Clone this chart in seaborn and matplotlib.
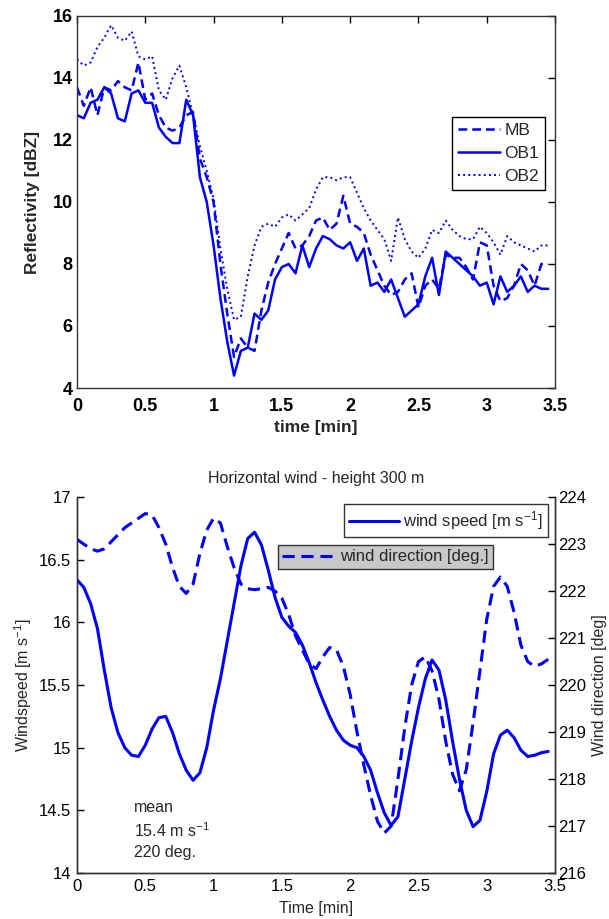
import numpy as np
import pandas as pd
import matplotlib
matplotlib.use("Agg")
import matplotlib.pyplot as plt
import seaborn as sns

# time grid (min), sampled every 0.05 min
t = np.round(np.arange(0, 3.5, 0.05), 2)

mb = [13.7, 13.1, 13.7, 12.8, 13.7, 13.6, 13.9, 13.7, 13.6, 14.5,
      13.3, 13.5, 12.8, 12.4, 12.3, 12.4, 12.8, 12.9, 11.4, 10.8,
      10.0, 8.0, 6.4, 5.0, 5.6, 5.3, 5.2, 6.5, 7.4, 8.0,
      8.5, 9.0, 8.5, 8.6, 8.9, 9.4, 9.5, 9.1, 9.3, 10.2,
      9.3, 9.2, 9.0, 8.3, 7.8, 7.3, 7.0, 7.1, 7.5, 7.7,
      6.6, 7.3, 7.5, 7.2, 8.3, 8.2, 8.2, 7.9, 7.5, 8.7,
      8.6, 7.3, 6.8, 6.9, 7.3, 8.0, 7.8, 7.3, 8.0, 8.0]
ob1 = [12.8, 12.7, 13.2, 13.3, 13.7, 13.5, 12.7, 12.6, 13.5, 13.6,
       13.2, 13.2, 12.4, 12.1, 11.9, 11.9, 13.3, 12.8, 10.8, 10.0,
       8.6, 6.9, 5.5, 4.4, 5.2, 5.3, 6.4, 6.2, 6.5, 7.5,
       7.9, 8.0, 7.7, 8.6, 7.9, 8.5, 8.9, 8.8, 8.6, 8.5,
       8.7, 8.1, 8.5, 7.3, 7.4, 7.1, 7.5, 6.9, 6.3, 6.5,
       6.7, 7.6, 8.2, 7.0, 8.4, 8.2, 8.0, 7.8, 7.6, 7.3,
       7.4, 6.7, 7.6, 7.1, 7.3, 7.6, 7.1, 7.3, 7.2, 7.2]
ob2 = [14.6, 14.4, 14.5, 15.0, 15.3, 15.7, 15.3, 15.2, 15.5, 14.7,
       14.6, 14.7, 13.6, 13.3, 14.0, 14.4, 13.7, 12.8, 11.8, 11.0,
       10.1, 8.5, 7.2, 6.2, 6.3, 7.6, 8.6, 9.2, 9.3, 9.2,
       9.5, 9.6, 9.4, 9.6, 9.8, 10.4, 10.8, 10.8, 10.7, 10.8,
       10.8, 10.3, 9.8, 9.4, 9.1, 8.8, 8.1, 9.5, 8.8, 8.4,
       8.2, 8.5, 9.1, 9.0, 9.4, 9.1, 8.9, 8.8, 8.8, 9.2,
       9.0, 8.7, 8.3, 8.9, 8.7, 8.6, 8.5, 8.4, 8.6, 8.6]

speed = [16.34, 16.28, 16.15, 15.95, 15.62, 15.32, 15.12, 15.0, 14.94, 14.93,
         15.02, 15.15, 15.24, 15.25, 15.12, 14.95, 14.82, 14.74, 14.80, 15.0,
         15.3, 15.55, 15.85, 16.15, 16.45, 16.67, 16.72, 16.62, 16.42, 16.2,
         16.04, 15.97, 15.92, 15.82, 15.68, 15.52, 15.38, 15.25, 15.14, 15.06,
         15.02, 15.0, 14.93, 14.82, 14.64, 14.48, 14.38, 14.45, 14.75, 15.05,
         15.32, 15.55, 15.70, 15.62, 15.38, 15.05, 14.75, 14.5, 14.37, 14.42,
         14.65, 14.95, 15.1, 15.14, 15.08, 14.98, 14.93, 14.94, 14.96, 14.97]
direction = [223.1, 223.0, 222.9, 222.85, 222.9, 223.05, 223.2, 223.35, 223.45, 223.55,
             223.65, 223.62, 223.35, 223.0, 222.5, 222.1, 221.95, 222.15, 222.8, 223.3,
             223.55, 223.45, 222.95, 222.5, 222.15, 222.05, 222.03, 222.05, 222.08, 222.0,
             221.85, 221.5, 221.05, 220.75, 220.45, 220.35, 220.6, 220.8, 220.75, 220.4,
             219.8, 219.0, 218.3, 217.65, 217.1, 216.85, 217.0, 218.0, 219.1, 220.0,
             220.5, 220.6, 220.3, 219.7, 218.8, 218.1, 217.75, 218.2, 219.2, 220.3,
             221.4, 222.1, 222.3, 222.1, 221.55, 220.85, 220.5, 220.4, 220.45, 220.55]

x_ticks = [0, 0.5, 1, 1.5, 2, 2.5, 3, 3.5]
x_labels = ["0", "0.5", "1", "1.5", "2", "2.5", "3", "3.5"]

refl = pd.DataFrame({"time": t, "MB": mb, "OB1": ob1, "OB2": ob2})
wind = pd.DataFrame({"time": t, "speed": speed, "direction": direction})

sns.set_theme(style="white")
plt.rcParams["font.family"] = ["Liberation Sans", "DejaVu Sans"]
plt.rcParams["mathtext.fontset"] = "custom"
plt.rcParams["mathtext.rm"] = "Liberation Sans"
plt.rcParams["mathtext.it"] = "Liberation Sans"
plt.rcParams["xtick.direction"] = "in"
plt.rcParams["ytick.direction"] = "in"

blue = "#0000ff"
edge = "#333333"

fig = plt.figure(figsize=(6.09, 9.19), dpi=100)

# ---- top panel: reflectivity
ax1 = fig.add_axes([0.1264, 0.5778, 0.785, 0.4048])
sns.lineplot(data=refl, x="time", y="MB", ax=ax1, color=blue, lw=1.8, label="MB")
ax1.lines[-1].set_dashes((3.5, 2.0))
sns.lineplot(data=refl, x="time", y="OB1", ax=ax1, color=blue, lw=1.8, label="OB1")
sns.lineplot(data=refl, x="time", y="OB2", ax=ax1, color=blue, lw=1.4, ls=":", label="OB2")
ax1.set_xlim(0, 3.5)
ax1.set_ylim(4, 16)
ax1.set_xticks(x_ticks)
ax1.set_xticklabels(x_labels)
ax1.set_yticks(np.arange(4, 16.1, 2))
ax1.tick_params(axis="both", labelsize=13, length=5, width=1, colors="black",
                top=True, right=True)
ax1.tick_params(axis="x", pad=7)
ax1.tick_params(axis="y", pad=3)
for lab in ax1.get_xticklabels() + ax1.get_yticklabels():
    lab.set_fontweight("bold")
ax1.set_xlabel("time [min]", fontsize=12.5, fontweight="bold", labelpad=4)
ax1.set_ylabel("Reflectivity [dBZ]", fontsize=12.5, fontweight="bold", labelpad=9)
for s in ax1.spines.values():
    s.set_color(edge)
    s.set_linewidth(1)
leg1 = ax1.legend(loc="upper right", bbox_to_anchor=(0.979, 0.728), fontsize=12.5,
                  frameon=True, fancybox=False, framealpha=1, edgecolor="black",
                  handlelength=2.4, handletextpad=0.25, borderpad=0.35, labelspacing=0.45,
                  borderaxespad=0)
leg1.get_frame().set_linewidth(1)

# ---- bottom panel: wind
ax2 = fig.add_axes([0.1264, 0.05005, 0.785, 0.409])
sns.lineplot(data=wind, x="time", y="speed", ax=ax2, color=blue, lw=2.2,
             label=r"wind speed [m s$^{-1}$]")
ax2.set_xlim(0, 3.5)
ax2.set_ylim(14, 17)
ax2.set_xticks(x_ticks)
ax2.set_xticklabels(x_labels)
ax2.set_yticks(np.arange(14, 17.01, 0.5))
ax2.set_yticklabels(["14", "14.5", "15", "15.5", "16", "16.5", "17"])
ax2.tick_params(axis="both", labelsize=12, length=5, width=1, colors="black", pad=4)
ax2.set_xlabel("Time [min]", fontsize=11.5, labelpad=5)
ax2.set_ylabel(r"Windspeed [m s$^{-1}$]", fontsize=11.5, labelpad=4)
ax2.set_title("Horizontal wind - height 300 m", fontsize=11.5, pad=10)
ax2.spines["top"].set_visible(False)

ax3 = ax2.twinx()
sns.lineplot(data=wind, x="time", y="direction", ax=ax3, color=blue, lw=2.2,
             label="wind direction [deg.]")
ax3.lines[-1].set_dashes((4, 2.2))
ax3.set_ylim(216, 224)
ax3.set_yticks(np.arange(216, 224.1, 1))
ax3.tick_params(axis="y", labelsize=12, length=5, width=1, colors="black", pad=2, direction="in")
ax3.set_ylabel("Wind direction [deg]", fontsize=11.5, labelpad=4)
ax3.spines["top"].set_visible(False)
for a in (ax2, ax3):
    for s in a.spines.values():
        s.set_color(edge)
        s.set_linewidth(1)

leg2 = ax2.legend(loc="upper right", bbox_to_anchor=(0.985, 0.981), fontsize=12,
                  frameon=True, fancybox=False, framealpha=1, edgecolor=edge,
                  handlelength=3.0, handletextpad=0.25, borderpad=0.3, borderaxespad=0)
leg2.get_frame().set_linewidth(1)
leg3 = ax3.legend(loc="upper right", bbox_to_anchor=(0.870, 0.872), fontsize=12,
                  frameon=True, fancybox=False, framealpha=1, edgecolor=edge,
                  facecolor="#c8c8c8", handlelength=3.3, handletextpad=0.2,
                  borderpad=0.25, borderaxespad=0)
leg3.get_frame().set_linewidth(1)

ax2.text(0.12, 0.035, "mean\n" + r"15.4 m s$^{-1}$" + "\n220 deg.", transform=ax2.transAxes,
         fontsize=11.5, ha="left", va="bottom", linespacing=1.4)

fig.savefig("out.png", dpi=100)
